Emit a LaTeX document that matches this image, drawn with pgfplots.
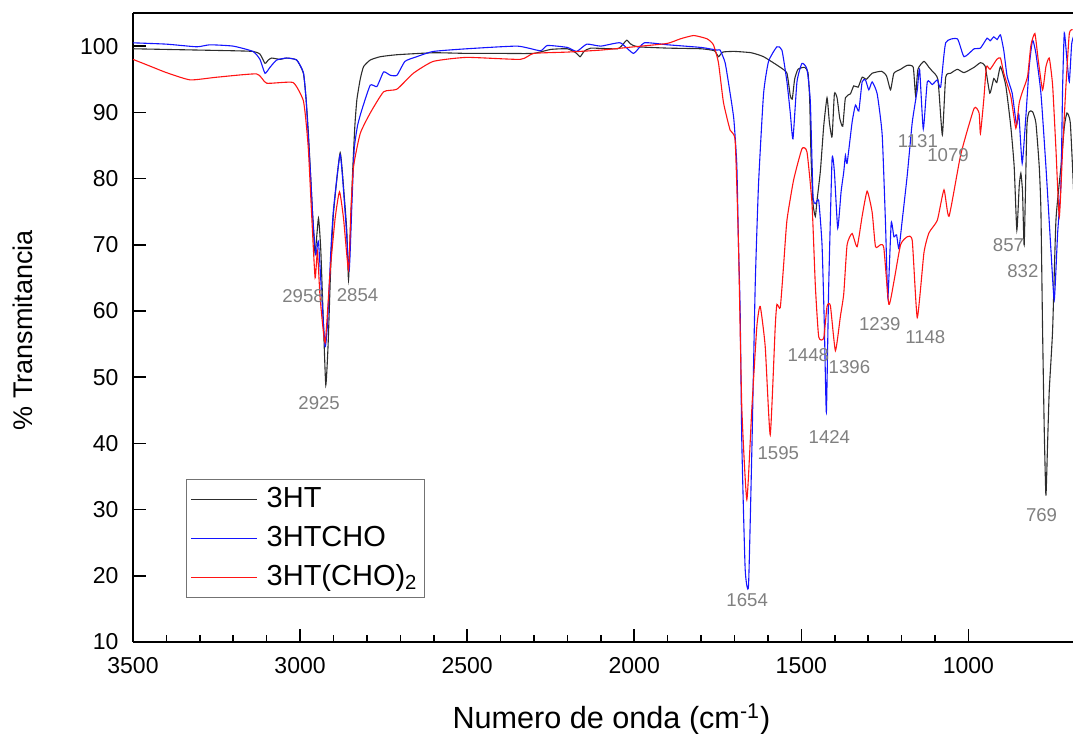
\documentclass[border=0pt]{standalone}
\usepackage{pgfplots}
\pgfplotsset{compat=1.18}
\usepackage{fontspec}
\setmainfont{Liberation Sans}
\definecolor{annot}{RGB}{128,128,128}
\definecolor{sblack}{RGB}{45,45,45}
\definecolor{sblue}{RGB}{20,20,255}
\definecolor{sred}{RGB}{255,20,20}
\begin{document}
\begin{tikzpicture}
\begin{axis}[
  scale only axis, width=470pt, height=314.5pt,
  x dir=reverse, xmin=687, xmax=3500, ymin=10, ymax=105,
  separate axis lines, axis x line*=box, axis y line*=left,
  axis line style={-, line width=1pt},
  xtick={1000,1500,2000,2500,3000,3500}, minor x tick num=4,
  xtick pos=bottom, ytick pos=left,
  ytick={10,20,...,100},
  tick align=inside,
  major tick length=6.5pt, minor tick length=3.5pt,
  every tick/.style={black, line width=0.8pt},
  /pgf/number format/assume math mode=true,
  /pgf/number format/1000 sep={},
  tick label style={font=\fontsize{11.5}{13}\selectfont},
  xticklabel style={yshift=-4pt},
  yticklabel style={xshift=-3.7pt},
  xlabel={Numero de onda (cm\textsuperscript{-1})},
  ylabel={\% Transmitancia},
  label style={font=\fontsize{13.5}{16}\selectfont},
  xlabel style={at={(axis description cs:0.509,-0.1383)}, anchor=base, font=\fontsize{15.3}{17}\selectfont},
  ylabel style={at={(axis description cs:-0.1064,0.496)}, anchor=base},
  legend style={at={(axis description cs:0.0564,0.2591)}, anchor=north west,
    draw=black!55, line width=0.6pt, fill=white,
    font=\fontsize{14.5}{17}\selectfont,
    inner xsep=2pt, inner ysep=1.5pt, row sep=2.5pt, column sep=3pt,
    nodes={inner sep=1.5pt, text height=11pt, text depth=3pt}},
  legend cell align=left,
  legend image code/.code={\draw[line width=0.55pt, #1] (0pt,0pt) -- (33pt,0pt);},
  every axis plot/.append style={line width=0.55pt, smooth, tension=0.3},
]
\addlegendimage{draw=sblack, color=sblack}
\addlegendentry{3HT}
\addlegendimage{draw=sblue, color=sblue}
\addlegendentry{3HTCHO}
\addlegendimage{draw=sred, color=sred}
\addlegendentry{3HT(CHO)\textsubscript{2}}
% 3HT
\addplot[draw=sblack, forget plot] table {
3500 99.6
3400 99.5
3300 99.4
3200 99.3
3141 99.2
3120 98.8
3105 97.4
3095 97.9
3085 98.2
3060 98.0
3040 98.2
3010 97.9
2990 95.9
2982 92
2975 86.8
2968 80
2962 74.2
2955 68.7
2945 74.0
2938 69.2
2930 58
2923 48.8
2916 55
2908 67
2900 74.8
2880 83.9
2867 76.8
2860 72
2855 64.7
2848 74
2842 81.8
2836 88
2830 91.9
2820 95
2810 96.9
2790 97.9
2760 98.4
2710 98.7
2600 99.0
2500 98.9
2400 98.9
2302 98.9
2250 99.5
2200 99.6
2175 99.0
2162 98.4
2150 99.2
2130 99.7
2050 99.6
2030 100.5
2022 100.9
2010 100.3
1990 99.9
1900 99.7
1800 99.6
1760 99.3
1748 98.4
1735 99.1
1700 99.2
1650 99.0
1613 98.4
1563 96.8
1543 95.9
1533 92.5
1527 92.0
1520 95.0
1510 96.5
1490 96.8
1480 96.0
1475 92.0
1471 83.5
1465 76.2
1458 74.3
1453 76.7
1443 81.1
1433 87.9
1423 92.2
1416 88.5
1408 86.3
1401 92.8
1393 92.2
1385 89.1
1376 87.9
1368 92.2
1353 92.8
1343 94.0
1330 93.8
1318 95.3
1305 95.0
1288 95.9
1260 96.2
1245 95.5
1233 93.4
1223 95.9
1203 96.5
1183 97.1
1165 96.8
1158 92.5
1151 96.5
1133 97.7
1118 96.8
1108 96.2
1091 94.9
1078 86.6
1068 95.3
1053 95.9
1033 96.5
1013 96.0
983 96.8
964 97.5
950 97.0
936 92.9
924 95.1
915 94.5
904 96.9
888 94.0
873 87.8
863 81.8
855 72.2
848 78.8
843 80.8
838 78
833 70.0
825 87.8
818 90.1
808 90.1
798 88.4
788 81.8
783 75.2
778 57.1
773 42
768 32.1
763 40
758 48
748 57.1
738 73.7
723 81.8
713 87.8
705 89.9
695 88.4
685 78
};
% 3HTCHO
\addplot[draw=sblue, forget plot] table {
3500 100.5
3400 100.3
3309 99.9
3270 100.2
3200 100.0
3141 99.2
3120 98.0
3105 95.9
3090 96.8
3070 97.9
3040 98.2
3010 97.9
2990 96.0
2982 92
2975 86.0
2968 80
2962 74.2
2953 68.5
2945 70.5
2935 62
2925 54.6
2918 58
2908 69
2900 75.3
2880 83.6
2865 74.8
2853 66.2
2845 76
2838 84.4
2828 88
2815 90.4
2790 94.1
2770 93.9
2750 96.1
2730 95.6
2710 95.6
2686 97.7
2651 98.4
2601 99.2
2501 99.6
2350 100.0
2281 99.3
2260 100.1
2200 99.8
2172 99.2
2142 100.3
2100 100.0
2042 100.5
2002 98.9
1970 100.5
1900 100.2
1800 99.8
1752 99.4
1743 99.4
1728 97.5
1715 93.5
1702 89.0
1693 82
1688 70
1683 60
1678 40
1668 21
1658 18.5
1648 39
1638 63.8
1628 79.2
1613 92.8
1598 97.7
1573 99.9
1558 99.4
1543 94.6
1533 89.9
1525 86.0
1513 94.6
1498 97.4
1483 96.5
1473 91.6
1465 77.4
1458 76.2
1448 76.7
1438 70.0
1431 57.7
1425 44.7
1418 63.8
1408 82.9
1401 81.0
1391 72.5
1381 78.0
1373 81.0
1368 83.5
1363 82.3
1348 88.5
1338 91.1
1328 90.2
1318 94.6
1308 94.9
1298 93.4
1288 94.6
1273 92.8
1258 86.6
1248 73.1
1241 62.0
1231 73.3
1223 71.2
1215 71.5
1208 69.4
1198 73.7
1183 80.5
1168 88.5
1153 93.4
1146 96.5
1135 87.5
1123 94.6
1108 94.2
1093 94.9
1083 93.8
1068 100.5
1033 101.1
1013 98.4
983 99.6
964 99.7
944 101.2
935 100.8
924 101.4
914 101.0
904 101.7
894 99.3
884 95.4
869 92.9
856 88.1
849 89.7
839 82.3
828 89.4
818 96.9
808 100.9
798 98.9
783 92.9
768 81.8
753 69.2
743 61.7
733 71.7
723 79.3
718 93.9
713 102.0
705 97.9
698 94.6
691 100.3
685 101.5
};
% 3HT(CHO)2
\addplot[draw=sred, forget plot] table {
3500 98.0
3450 97.0
3400 96.0
3329 94.9
3250 95.3
3130 95.8
3100 94.4
3021 94.5
2991 91.9
2983 89
2975 84.3
2965 74.2
2955 65.0
2948 69
2940 62
2925 55.2
2910 66
2895 74
2882 78.0
2870 74
2855 66.2
2848 75
2840 81.8
2820 86.8
2790 89.9
2750 93.1
2710 93.5
2661 95.9
2601 97.7
2501 98.3
2341 98.0
2301 98.9
2200 99.1
2100 99.4
2000 99.9
1902 100.4
1862 101.1
1822 101.6
1782 101.1
1763 100.2
1748 97.5
1733 91.5
1713 87.3
1698 85.7
1688 70.0
1678 45.3
1663 31.5
1648 45.3
1633 57.7
1623 60.7
1608 54.6
1593 41.3
1578 57.7
1573 61.0
1563 60.5
1553 66.9
1543 73.7
1523 79.8
1498 84.5
1483 84.0
1468 76.2
1458 63.8
1448 56.1
1433 55.9
1423 60.7
1413 60.8
1398 54.0
1383 59.2
1373 62.6
1363 70.0
1348 71.7
1333 69.7
1318 74.3
1303 78.1
1288 74.9
1278 69.7
1263 70.0
1253 69.5
1238 61.0
1223 64.4
1203 70.0
1183 71.2
1168 70.6
1153 59.0
1133 68.8
1118 71.8
1093 73.7
1073 78.3
1058 74.3
1023 83.6
983 90.6
968 89.9
964 86.8
954 91.9
946 96.9
935 96.5
915 98.0
904 98.2
894 95.9
873 92.4
858 87.6
848 91.4
839 93.0
823 95.4
813 100.1
801 101.9
791 97.9
778 93.4
768 96.9
758 98.2
748 94.1
738 84.4
728 74.2
718 84.4
708 94.1
698 101.9
688 102.5
};
\begin{scope}[every node/.style={text=annot, font=\fontsize{9.3}{11}\selectfont}]
\node at (axis cs:2991,62.3) {2958};
\node at (axis cs:2828,62.4) {2854};
\node at (axis cs:2943,46.1) {2925};
\node at (axis cs:1662,16.3) {1654};
\node at (axis cs:1569,38.5) {1595};
\node at (axis cs:1479,53.4) {1448};
\node at (axis cs:1356,51.5) {1396};
\node at (axis cs:1416,41.0) {1424};
\node at (axis cs:1265,58.0) {1239};
\node at (axis cs:1129,56.1) {1148};
\node at (axis cs:1151,85.7) {1131};
\node at (axis cs:1061,83.6) {1079};
\node at (axis cs:880,70.0) {857};
\node at (axis cs:837,66.0) {832};
\node at (axis cs:781,29.2) {769};
\end{scope}
\end{axis}
\pgfresetboundingbox
\path (-66.5pt,-46pt) rectangle (470pt,321pt);
\end{tikzpicture}
\end{document}
